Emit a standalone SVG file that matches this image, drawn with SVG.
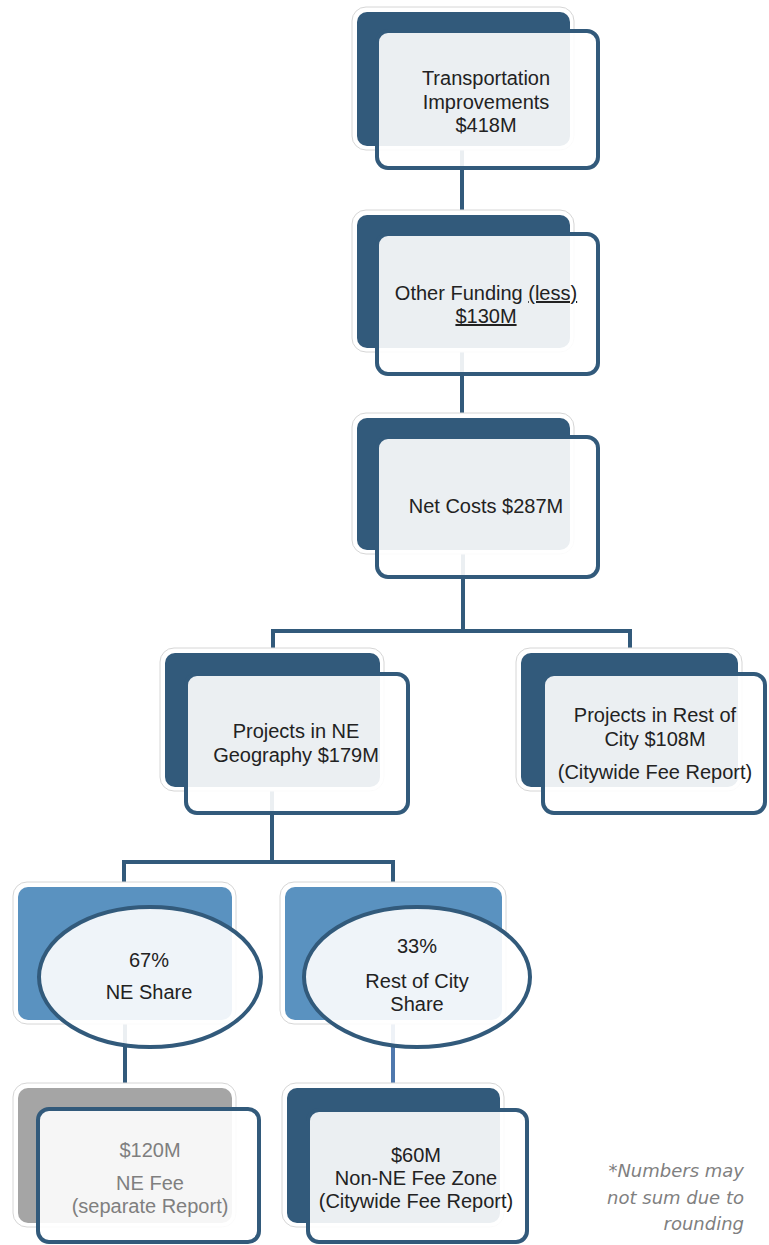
<svg xmlns="http://www.w3.org/2000/svg" width="769" height="1245" viewBox="0 0 769 1245">
<style>
.halo{fill:#ffffff;stroke:#d6d6d6;stroke-width:1}
.dark{fill:#325a7b}
.mid{fill:#5a92c0}
.gray{fill:#a5a5a5}
.front{fill:#ffffff;fill-opacity:0.9;stroke:#325a7b;stroke-width:4}
.conn{fill:none;stroke:#325a7b;stroke-width:4}
.t{font-family:"Liberation Sans",Arial,sans-serif;font-size:20px;fill:#222222;text-anchor:middle}
.tg{font-family:"Liberation Sans",Arial,sans-serif;font-size:20px;fill:#7f7f7f;text-anchor:middle}
.note{font-family:"DejaVu Sans",Verdana,sans-serif;font-size:18px;font-style:italic;fill:#808080;text-anchor:end}
</style>
<rect width="769" height="1245" fill="#ffffff"/>
<g id="connectors">
<path class="conn" d="M462 146 V215"/>
<path class="conn" d="M462 348 V418"/>
<path class="conn" d="M463 550 V631 M273 631 H630 M273 629 V655 M630 629 V655"/>
<path class="conn" d="M272 787 V862 M124 862 H393 M124 860 V887 M393 860 V887"/>
<path class="conn" d="M125 1020 V1090"/>
<path class="conn" d="M393 1020 V1090" style="stroke:#4f78ad"/>
</g>
<g id="node1">
<rect class="halo" x="352" y="7" width="222" height="143" rx="14"/>
<rect class="dark" x="357" y="12" width="213" height="134" rx="10"/>
<rect class="front" x="377" y="31" width="221" height="137" rx="11"/>
<text class="t" x="486" y="85">Transportation</text>
<text class="t" x="486" y="109">Improvements</text>
<text class="t" x="486" y="132">$418M</text>
</g>
<g id="node2">
<rect class="halo" x="352" y="210" width="222" height="142" rx="14"/>
<rect class="dark" x="357" y="215" width="213" height="133" rx="10"/>
<rect class="front" x="377" y="234" width="221" height="140" rx="11"/>
<text class="t" x="486" y="300">Other Funding <tspan text-decoration="underline">(less)</tspan></text>
<text class="t" x="486" y="323" text-decoration="underline">$130M</text>
</g>
<g id="node3">
<rect class="halo" x="352" y="413" width="222" height="141" rx="14"/>
<rect class="dark" x="357" y="418" width="213" height="132" rx="10"/>
<rect class="front" x="377" y="437" width="221" height="140" rx="11"/>
<text class="t" x="486" y="513">Net Costs $287M</text>
</g>
<g id="node4">
<rect class="halo" x="160" y="648" width="224" height="143" rx="14"/>
<rect class="dark" x="165" y="653" width="215" height="134" rx="10"/>
<rect class="front" x="186" y="674" width="222" height="139" rx="11"/>
<text class="t" x="296" y="738">Projects in NE</text>
<text class="t" x="296" y="762">Geography $179M</text>
</g>
<g id="node5">
<rect class="halo" x="516" y="648" width="226" height="143" rx="14"/>
<rect class="dark" x="521" y="653" width="217" height="134" rx="10"/>
<rect class="front" x="543" y="674" width="222" height="139" rx="11"/>
<text class="t" x="655" y="722">Projects in Rest of</text>
<text class="t" x="655" y="746">City $108M</text>
<text class="t" x="655" y="779">(Citywide Fee Report)</text>
</g>
<g id="node6">
<rect class="halo" x="13" y="882" width="223" height="142" rx="14"/>
<rect class="mid" x="18" y="887" width="214" height="133" rx="10"/>
<ellipse class="front" cx="150" cy="977" rx="111" ry="70"/>
<text class="t" x="149" y="967">67%</text>
<text class="t" x="149" y="999">NE Share</text>
</g>
<g id="node7">
<rect class="halo" x="280" y="882" width="226" height="142" rx="14"/>
<rect class="mid" x="285" y="887" width="217" height="133" rx="10"/>
<ellipse class="front" cx="417" cy="977" rx="113" ry="70"/>
<text class="t" x="417" y="953">33%</text>
<text class="t" x="417" y="988">Rest of City</text>
<text class="t" x="417" y="1011">Share</text>
</g>
<g id="node8">
<rect class="halo" x="13" y="1083" width="223" height="144" rx="14"/>
<rect class="gray" x="18" y="1088" width="214" height="135" rx="10"/>
<rect class="front" x="38" y="1109" width="221" height="133" rx="11"/>
<text class="tg" x="150" y="1157">$120M</text>
<text class="tg" x="150" y="1190">NE Fee</text>
<text class="tg" x="150" y="1213">(separate Report)</text>
</g>
<g id="node9">
<rect class="halo" x="282" y="1083" width="222" height="144" rx="14"/>
<rect class="dark" x="287" y="1088" width="213" height="135" rx="10"/>
<rect class="front" x="308" y="1110" width="219" height="132" rx="11"/>
<text class="t" x="416" y="1162">$60M</text>
<text class="t" x="416" y="1185">Non-NE Fee Zone</text>
<text class="t" x="416" y="1208">(Citywide Fee Report)</text>
</g>
<g id="note">
<text class="note" x="744" y="1177">*Numbers may</text>
<text class="note" x="744" y="1204">not sum due to</text>
<text class="note" x="744" y="1230">rounding</text>
</g>
</svg>
